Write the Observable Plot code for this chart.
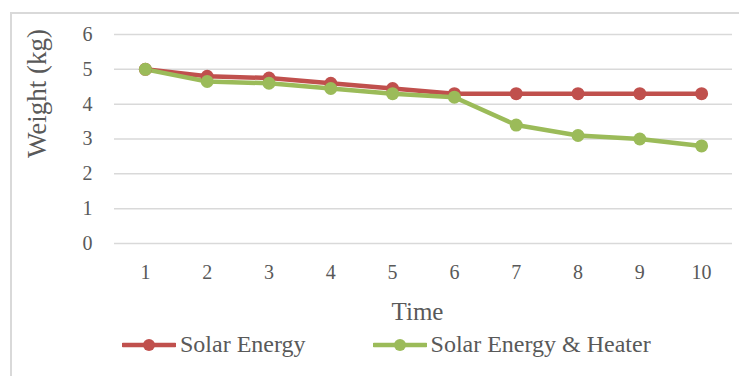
<!DOCTYPE html>
<html>
<head>
<meta charset="utf-8">
<script src="https://cdn.jsdelivr.net/npm/d3@7"></script>
<script src="https://cdn.jsdelivr.net/npm/@observablehq/plot@0.6"></script>
<style>
  html, body { margin: 0; padding: 0; background: #fff; }
  body { width: 739px; height: 376px; position: relative; overflow: hidden; font-family: 'Liberation Serif', serif; }
  #frame { position: absolute; left: 10px; top: 12px; right: -4px; bottom: -4px; border-left: 2px solid #d9d9d9; border-top: 2px solid #d9d9d9; }
  #chart { position: absolute; left: 0; top: 0; }
  #chart svg, #chart svg text { font-family: 'Liberation Serif', serif !important; }
  #legend { position: absolute; left: 122px; top: 331px; display: flex; align-items: center; color: #595959; font-size: 24px; font-family: 'Liberation Serif', serif; }
  .item { display: flex; align-items: center; margin-right: 67px; }
  .item svg { margin-right: 4px; }
</style>
</head>
<body>
<div id="frame"></div>
<div id="chart"></div>
<div id="legend"></div>
<script>
// Weight of the sample (kg) at each time step, for the two drying methods
const times = [1, 2, 3, 4, 5, 6, 7, 8, 9, 10];
const solarEnergy = [5.0, 4.8, 4.75, 4.6, 4.45, 4.3, 4.3, 4.3, 4.3, 4.3];
const solarEnergyHeater = [5.0, 4.65, 4.6, 4.45, 4.3, 4.2, 3.4, 3.1, 3.0, 2.8];
const seriesNames = ["Solar Energy", "Solar Energy & Heater"];
const seriesColors = ["#c0504d", "#9bbb59"];
const yTicks = [0, 1, 2, 3, 4, 5, 6];

const rows = [
  ...times.map((t, i) => ({time: t, weight: solarEnergy[i], series: seriesNames[0]})),
  ...times.map((t, i) => ({time: t, weight: solarEnergyHeater[i], series: seriesNames[1]}))
];

const textColor = "#595959";
const serif = "'Liberation Serif', serif";

const chart = Plot.plot({
  width: 739,
  height: 326,
  marginTop: 34,
  marginBottom: 83,
  marginLeft: 114,
  marginRight: 7,
  style: {fontFamily: serif, background: "transparent", color: textColor},
  // each time step sits in the middle of its own category slot
  x: {type: "linear", domain: [0.5, 10.5]},
  y: {domain: [0, 6]},
  color: {domain: seriesNames, range: seriesColors},
  marks: [
    Plot.gridY(yTicks, {stroke: "#d9d9d9", strokeOpacity: 1, strokeWidth: 1.5}),
    Plot.axisY(yTicks, {tickSize: 0, tickPadding: 22, fontSize: 20, fill: textColor, label: null}),
    Plot.axisX(times, {tickSize: 0, tickPadding: 21, fontSize: 20, fill: textColor, label: null}),
    Plot.line(rows, {x: "time", y: "weight", z: "series", stroke: "series", strokeWidth: 4.5}),
    Plot.dot(rows, {x: "time", y: "weight", fill: "series", r: 6.5}),
    Plot.text(["Time"], {frameAnchor: "bottom", dy: 76, dx: -6, fontSize: 25, fill: textColor, fontFamily: serif}),
    Plot.text(["Weight (kg)"], {frameAnchor: "left", rotate: -90, dx: -77, dy: 19, fontSize: 27, fill: textColor, fontFamily: serif})
  ]
});
document.getElementById("chart").appendChild(chart);

// Legend: line-and-marker swatch followed by the series name
const legend = d3.select("#legend");
seriesNames.forEach((name, i) => {
  const item = legend.append("div").attr("class", "item");
  const sw = item.append("svg").attr("width", 54).attr("height", 16);
  sw.append("line").attr("x1", 1).attr("x2", 53).attr("y1", 8).attr("y2", 8)
    .attr("stroke", seriesColors[i]).attr("stroke-width", 4.5).attr("stroke-linecap", "round");
  sw.append("circle").attr("cx", 27).attr("cy", 8).attr("r", 6).attr("fill", seriesColors[i]);
  item.append("span").text(name);
});
</script>
</body>
</html>
